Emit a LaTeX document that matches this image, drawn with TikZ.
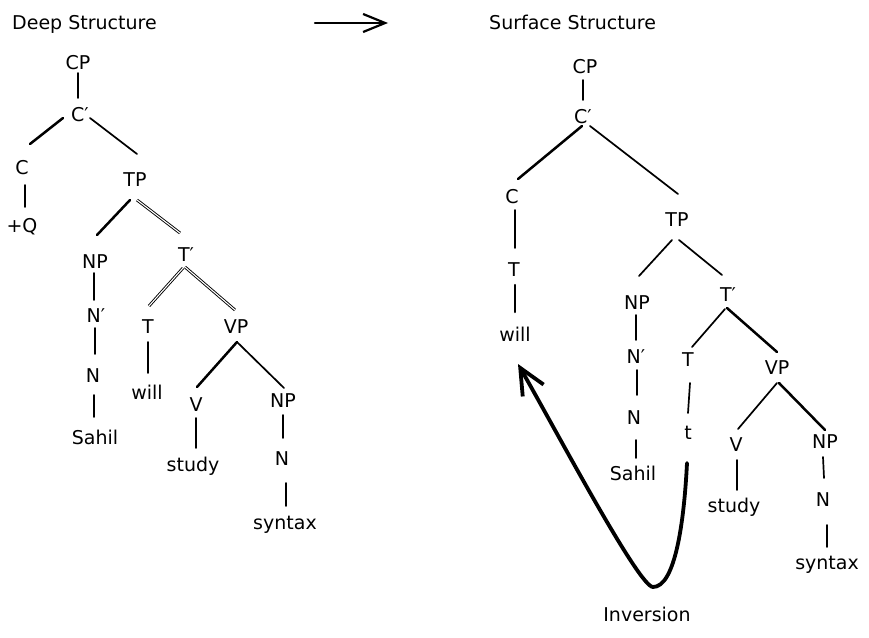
\documentclass[tikz,border=0pt]{standalone}
\usepackage{fontspec}
\setmainfont{DejaVu Sans}
\usetikzlibrary{arrows.meta}
\newcommand\tedge[5][br]{\draw[#1] ([shift={(#3)}]#2.center) -- ([shift={(#5)}]#4.center);}
\begin{document}
\begin{tikzpicture}[x=1pt,y=-1pt,
  lbl/.style={font=\fontsize{19}{19}\selectfont, inner sep=0pt, text height=13.5pt, text depth=0pt},
  br/.style={line width=1.7pt, line cap=round},
  thk/.style={line width=2.5pt, line cap=round},
  dbl/.style={double, double distance=1.1pt, line width=0.9pt},
  arr/.style={line width=2.2pt, line cap=round, -{Straight Barb[length=22pt,width=18pt]}},
  inv/.style={line width=3.8pt, line cap=round, -{Straight Barb[length=26pt,width=24pt]}}
]
\useasboundingbox (0,0) rectangle (869,637);

% titles
\node[lbl, anchor=west] (deep) at (12,23) {Deep Structure};
\node[lbl, anchor=west] (surf) at (489,23) {Surface Structure};
\coordinate (a1) at (315,23);
\coordinate (a2) at (388,23);
\draw[arr] (a1) -- (a2);

% ---------- left tree ----------
\node[lbl] (cpL) at (78,63) {CP};
\node[lbl] (c1L) at (80,115) {C′};
\node[lbl] (cL) at (22,168) {C};
\node[lbl] (qL) at (22,226) {+Q};
\node[lbl] (tpL) at (135,180) {TP};
\node[lbl] (npL) at (95,262) {NP};
\node[lbl] (n1L) at (96,316) {N′};
\node[lbl] (nL) at (93,376) {N};
\node[lbl] (sahilL) at (95,438) {Sahil};
\node[lbl] (t1L) at (186,255) {T′};
\node[lbl] (tL) at (148,327) {T};
\node[lbl] (willL) at (147,393) {will};
\node[lbl] (vpL) at (236,327) {VP};
\node[lbl] (vL) at (196,405) {V};
\node[lbl] (studyL) at (193,465) {study};
\node[lbl] (np2L) at (283,401) {NP};
\node[lbl] (n2L) at (282,459) {N};
\node[lbl] (syntaxL) at (285,523) {syntax};

\tedge{cpL}{0,10}{c1L}{-2,-17}
\tedge[thk]{c1L}{-17,3}{cL}{8,-24}
\tedge{c1L}{10,3}{tpL}{2,-26}
\tedge{cL}{3,17}{qL}{3,-19}
\tedge[thk]{tpL}{-5,20}{npL}{2,-27}
\tedge[dbl]{tpL}{2,20}{t1L}{-6,-22}
\tedge{npL}{-1,11}{n1L}{-2,-16}
\tedge{n1L}{-1,12}{nL}{2,-22}
\tedge{nL}{1,19}{sahilL}{-1,-21}
\tedge[dbl]{t1L}{-3,13}{tL}{1,-21}
\tedge[dbl]{t1L}{-1,12}{vpL}{-1,-17}
\tedge{tL}{0,15}{willL}{1,-20}
\tedge[thk]{vpL}{1,15}{vL}{1,-18}
\tedge{vpL}{1,15}{np2L}{1,-13}
\tedge{vL}{0,13}{studyL}{3,-17}
\tedge{np2L}{0,14}{n2L}{1,-21}
\tedge{n2L}{4,24}{syntaxL}{1,-17}

% ---------- right tree ----------
\node[lbl] (cpR) at (585,67) {CP};
\node[lbl] (c1R) at (583,117) {C′};
\node[lbl] (cR) at (512,197) {C};
\node[lbl] (tR) at (514,270) {T};
\node[lbl] (willR) at (515,335) {will};
\node[lbl] (tpR) at (677,220) {TP};
\node[lbl] (npR) at (637,303) {NP};
\node[lbl] (n1R) at (636,357) {N′};
\node[lbl] (nR) at (634,418) {N};
\node[lbl] (sahilR) at (633,474) {Sahil};
\node[lbl] (t1R) at (728,295) {T′};
\node[lbl] (ttR) at (688,360) {T};
\node[lbl] (traceR) at (688,433) {t};
\node[lbl] (vpR) at (777,368) {VP};
\node[lbl] (vR) at (736,445) {V};
\node[lbl] (studyR) at (734,506) {study};
\node[lbl] (np2R) at (825,442) {NP};
\node[lbl] (n2R) at (823,500) {N};
\node[lbl] (syntaxR) at (827,563) {syntax};
\node[lbl] (invR) at (647,615) {Inversion};

\tedge{cpR}{-2,13}{c1R}{0,-17}
\tedge[thk]{c1R}{-1,9}{cR}{6,-18}
\tedge{c1R}{7,9}{tpR}{1,-26}
\tedge{cR}{3,13}{tR}{1,-22}
\tedge[thk]{tR}{1,15}{willR}{0,-23}
\tedge{tpR}{-5,20}{npR}{2,-27}
\tedge{tpR}{2,20}{t1R}{-6,-20}
\tedge{npR}{-1,12}{n1R}{0,-17}
\tedge{n1R}{1,13}{nR}{3,-23}
\tedge{nR}{2,22}{sahilR}{3,-16}
\tedge{t1R}{-3,14}{ttR}{4,-13}
\tedge[thk]{t1R}{-1,13}{vpR}{0,-16}
\tedge{ttR}{2,23}{traceR}{0,-20}
\tedge{vpR}{0,15}{vR}{2,-16}
\tedge[thk]{vpR}{2,15}{np2R}{0,-12}
\tedge{vR}{1,15}{studyR}{3,-16}
\tedge{np2R}{-2,15}{n2R}{1,-22}
\tedge{n2R}{4,25}{syntaxR}{0,-16}

% inversion arrow
\coordinate (invb) at (653,587);
\draw[inv] ([shift={(-1,30)}]traceR.center) .. controls +(-3,60) and +(22,0) .. (invb)
  .. controls +(-14,0) and +(40,70) .. ([shift={(3,29)}]willR.center);
\end{tikzpicture}
\end{document}
